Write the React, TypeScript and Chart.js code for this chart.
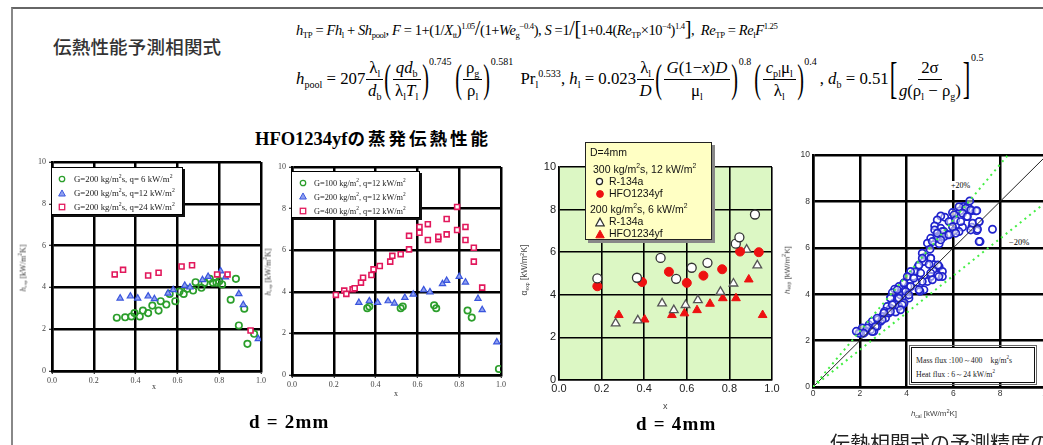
import React, { useEffect, useRef } from 'react';
import { Chart, registerables } from 'chart.js';
Chart.register(...registerables);

// ---------- DATA ----------
// d = 2mm, left panel (x, h_exp)
const g200q6: [number, number][] = [[0.31,2.55],[0.35,2.57],[0.38,2.61],[0.395,2.77],[0.42,2.61],[0.435,2.89],[0.46,2.77],[0.48,3.13],[0.51,2.89],[0.52,3.34],[0.547,3.18],[0.563,3.69],[0.59,3.34],[0.61,3.8],[0.63,3.69],[0.647,3.93],[0.675,3.85],[0.687,4.25],[0.715,3.98],[0.73,4.22],[0.755,4.41],[0.77,4.22],[0.787,4.22],[0.8,4.3],[0.814,4.14],[0.88,4.41],[0.855,3.41],[0.894,2.18],[0.92,2.98],[0.935,1.3],[0.967,1.78]];
const g200q12: [number, number][] = [[0.326,3.48],[0.375,3.58],[0.41,3.48],[0.46,3.58],[0.49,3.45],[0.555,3.72],[0.58,3.88],[0.635,4.09],[0.66,4.01],[0.72,4.36],[0.747,4.52],[0.807,4.78],[0.83,4.49],[0.894,3.69],[0.915,3.17],[0.987,1.54]];
const g200q24: [number, number][] = [[0.3,4.62],[0.34,4.84],[0.46,4.57],[0.51,4.7],[0.62,5.0],[0.67,5.06],[0.79,4.62],[0.84,4.62],[0.95,1.94]];
// d = 2mm, right panel
const g100q12: [number, number][] = [[0.36,3.21],[0.37,3.29],[0.52,3.21],[0.53,3.29],[0.68,3.35],[0.69,3.21],[0.84,3.1],[0.86,2.76],[0.99,0.29]];
const g200q12b: [number, number][] = [[0.32,3.48],[0.37,3.56],[0.41,3.48],[0.46,3.56],[0.49,3.45],[0.54,3.72],[0.58,3.88],[0.63,4.09],[0.66,3.99],[0.72,4.38],[0.74,4.54],[0.8,4.73],[0.83,4.46],[0.89,3.67],[0.91,3.13],[0.98,1.58]];
const g400q12: [number, number][] = [[0.21,3.85],[0.25,4.06],[0.26,3.9],[0.29,4.12],[0.3,4.17],[0.33,4.44],[0.34,4.68],[0.38,4.81],[0.39,5.08],[0.42,5.24],[0.47,5.45],[0.48,5.73],[0.52,5.81],[0.56,6.04],[0.56,6.69],[0.61,6.84],[0.61,7.12],[0.65,6.49],[0.65,7.25],[0.7,6.53],[0.7,6.64],[0.74,6.76],[0.74,7.5],[0.79,6.97],[0.79,8.08],[0.83,7.12],[0.83,6.49],[0.87,6.12],[0.87,5.45],[0.91,4.2]];
// d = 4mm
const r134a300: [number, number][] = [[0.18,4.77],[0.366,4.8],[0.477,5.73],[0.55,4.75],[0.623,5.27],[0.697,5.5],[0.83,6.4],[0.847,6.7],[0.92,7.77]];
const hfo300: [number, number][] = [[0.18,4.4],[0.39,4.6],[0.516,5.08],[0.6,4.56],[0.678,4.9],[0.766,5.2],[0.85,6.03],[0.938,6.0]];
const r134a200: [number, number][] = [[0.266,2.66],[0.37,2.8],[0.484,3.6],[0.539,3.28],[0.594,3.52],[0.652,3.75],[0.758,4.14],[0.819,4.53],[0.881,6.12],[0.931,5.38]];
const hfo200: [number, number][] = [[0.281,3.05],[0.402,2.84],[0.53,3.05],[0.589,3.13],[0.648,3.28],[0.709,3.58],[0.769,3.84],[0.831,3.84],[0.891,4.72],[0.956,3.05]];
// correlation accuracy (h_cal, h_exp)
const accuracy: [number, number][] = [
  [6.7,8.02],[6.43,7.78],[6.29,7.6],[6.67,7.7],[6.56,7.35],[6.79,7.6],[6.96,7.59],[7.1,7.13],[7.0,6.74],[7.67,6.8],[7.14,6.27],[6.79,6.89],[6.39,6.89],[6.24,6.7],[6.03,6.74],
  [5.96,7.52],[5.89,7.13],[5.63,7.32],[5.46,7.37],[5.31,7.2],[5.2,6.94],[5.46,6.84],[5.6,6.7],[5.74,6.56],[5.39,6.46],[5.2,6.77],[5.39,6.17],[5.27,6.41],[5.03,6.41],[4.89,6.2],
  [5.0,5.94],[4.81,5.62],[4.67,5.77],[4.74,5.41],[5.03,5.55],[5.17,5.27],[5.39,5.19],[5.53,4.98],[5.31,4.84],[5.53,4.76],[5.13,5.05],[5.03,4.76],[4.89,4.55],[4.74,4.19],[4.57,4.12],
  [4.43,4.51],[4.29,4.76],[4.49,5.19],[4.36,4.98],[4.17,4.98],[4.03,4.76],[3.89,4.48],[4.06,4.33],[3.81,4.19],[3.67,4.33],[3.49,4.22],[3.39,4.07],[3.31,3.83],[3.46,3.62],[3.6,3.83],
  [3.74,3.97],[3.96,3.9],[4.1,3.83],[3.89,3.62],[3.67,3.47],[3.31,3.4],[3.17,3.47],[3.06,3.26],[2.96,3.04],[2.89,2.83],[2.74,2.61],[2.6,2.4],[2.46,2.47],[2.24,2.4],[2.03,2.32],
  [2.39,2.68],[2.53,2.83],[2.77,2.9],[3.1,2.97],[3.24,3.19],[3.53,3.23],[2.1,2.54],[1.96,2.32],[1.85,2.4],
  [4.67,5.55],[5.03,5.55],[4.53,5.26],[4.96,5.29],[5.34,5.26],[5.38,4.76],[5.03,4.91],[4.6,4.91],[4.31,4.69],[4.67,4.55],[5.1,4.62],[4.53,4.19],[4.17,4.33],[3.88,4.48],[3.6,4.19],
  [3.96,4.12],[4.1,3.97],[3.67,3.83],[3.31,3.83],[3.39,3.54],[3.81,3.54],[3.74,3.33],[3.31,3.25],[3.03,3.19],[2.96,2.9],[2.74,2.97],[2.67,2.61],[2.31,2.54],[2.17,2.32],[2.53,2.39],
  [6.24,7.77],[6.53,7.71],[6.74,7.63],[7.0,7.6],[6.39,7.49],[6.6,7.35],[6.03,7.42],[5.81,7.13],[6.1,7.2],[6.31,7.13],[5.96,6.91],[5.53,6.7],[5.31,6.63],[5.6,6.48],[5.81,6.56],
  [6.1,6.63],[5.46,6.34],[5.1,6.27],[6.82,7.06],[7.1,7.13],[6.74,6.77],[7.03,6.8],[7.1,6.27]
];
const diagLine: [number, number][] = [[0,0],[10,10]];
const plus20Line: [number, number][] = [[0,0],[8.333,10]];
const minus20Line: [number, number][] = [[0,0],[10,8]];

const xTicksFrac = ['0.0','0.2','0.4','0.6','0.8','1.0'];
const yTicks = ['0','2','4','6','8','10'];
const hTicks = ['0','2','4','6','8','10'];

// ---------- helpers ----------
const P = (arr: [number, number][]) => arr.map(([x, y]) => ({ x, y }));

const plotBg = (color: string) => ({
  id: 'plotBg',
  beforeDraw(chart: any) {
    const { ctx, chartArea: a } = chart;
    ctx.save();
    ctx.fillStyle = color;
    ctx.fillRect(a.left, a.top, a.right - a.left, a.bottom - a.top);
    ctx.restore();
  },
});

type PanelProps = {
  area: { x0: number; x1: number; y0: number; y1: number };
  yW: number; xH: number;
  xMax: number; xStep: number; xLabels: string[];
  yMax: number; yStep: number; yLabels: string[];
  font: any; tickColor: string; gridW: number; tickLen: number;
  datasets: any[]; bg: string;
};

const PAD = { left: 4, top: 10, right: 16, bottom: 4 };

function Panel(p: PanelProps) {
  const ref = useRef<HTMLCanvasElement>(null);
  const w = Math.round(p.area.x1 - p.area.x0 + p.yW + PAD.left + PAD.right);
  const h = Math.round(p.area.y1 - p.area.y0 + p.xH + PAD.top + PAD.bottom);
  useEffect(() => {
    const mkGrid = () => ({ color: '#000000', lineWidth: p.gridW, tickLength: p.tickLen, drawTicks: p.tickLen > 0, tickColor: '#000000', tickWidth: 1 });
    const chart = new Chart(ref.current!, {
      type: 'scatter',
      data: { datasets: p.datasets },
      options: {
        animation: false,
        responsive: false,
        maintainAspectRatio: false,
        devicePixelRatio: 1,
        layout: { padding: PAD },
        plugins: { legend: { display: false }, tooltip: { enabled: false } },
        scales: {
          x: {
            type: 'linear', min: 0, max: p.xMax,
            ticks: { stepSize: p.xStep, font: p.font, color: p.tickColor, padding: 2, maxRotation: 0,
              callback: (_v: any, i: number) => p.xLabels[i] },
            grid: mkGrid(),
            border: { color: '#000000', width: p.gridW },
            afterFit: (s: any) => { s.height = p.xH; s.paddingLeft = 0; s.paddingRight = 0; },
          },
          y: {
            type: 'linear', min: 0, max: p.yMax,
            ticks: { stepSize: p.yStep, font: p.font, color: p.tickColor, padding: 3,
              callback: (_v: any, i: number) => p.yLabels[i] },
            grid: mkGrid(),
            border: { color: '#000000', width: p.gridW },
            afterFit: (s: any) => { s.width = p.yW; s.paddingTop = 0; s.paddingBottom = 0; },
          },
        },
      } as any,
      plugins: [plotBg(p.bg)],
    });
    return () => chart.destroy();
  }, []);
  return (
    <canvas ref={ref} width={w} height={h}
      style={{ position: 'absolute', left: Math.round(p.area.x0) - p.yW - PAD.left, top: Math.round(p.area.y0) - PAD.top, width: w, height: h }} />
  );
}

function Mk({ kind, stroke, fill, size = 8, sw = 1.6 }: { kind: string; stroke: string; fill: string; size?: number; sw?: number }) {
  return (
    <svg width={size} height={size} viewBox="0 0 10 10" style={{ display: 'block' }}>
      {kind === 'circle' && <circle cx="5" cy="5" r="3.4" fill={fill} stroke={stroke} strokeWidth={sw} />}
      {kind === 'square' && <rect x="1.6" y="1.6" width="6.8" height="6.8" fill={fill} stroke={stroke} strokeWidth={sw} />}
      {kind === 'tri' && <polygon points="5,1.2 9.2,8.8 0.8,8.8" fill={fill} stroke={stroke} strokeWidth={sw} />}
    </svg>
  );
}

const abs = (left: number, top: number, extra: any = {}) => ({ position: 'absolute' as const, left, top, ...extra });

const serif = '"Liberation Serif", "Times New Roman", serif';
const sans = '"Liberation Sans", Arial, sans-serif';
const cjk = '"Noto Sans CJK JP", sans-serif';

const Sb = ({ c }: { c: any }) => <sub style={{ fontSize: '0.6em', verticalAlign: '-0.35em', lineHeight: 0 }}>{c}</sub>;
const Sp = ({ c }: { c: any }) => <sup style={{ fontSize: '0.6em', verticalAlign: '0.7em', lineHeight: 0 }}>{c}</sup>;
const It = ({ c }: { c: any }) => <i>{c}</i>;
const Sl = ({ c }: { c: string }) => <span style={{ fontSize: '1.4em', lineHeight: 0 }}>{c}</span>;

function Frac({ n, d }: { n: any; d: any }) {
  return (
    <span style={{ display: 'inline-flex', flexDirection: 'column', alignItems: 'center', margin: '0 1px' }}>
      <span style={{ borderBottom: '1px solid #000', padding: '0 3px 1px', lineHeight: 1.15, whiteSpace: 'nowrap' }}>{n}</span>
      <span style={{ lineHeight: 1.15, paddingTop: 1, whiteSpace: 'nowrap' }}>{d}</span>
    </span>
  );
}
function Big({ ch, s = 2.4 }: { ch: string; s?: number }) {
  return <span style={{ display: 'inline-block', fontSize: `${s}em`, lineHeight: 1, transform: 'scaleX(0.5)', fontWeight: 100, margin: '0 -3px' }}>{ch}</span>;
}
function Ex({ c, t = 0, mr = 3 }: { c: string; t?: number; mr?: number }) {
  return <span style={{ alignSelf: 'flex-start', fontSize: 10, marginTop: t, marginRight: mr }}>{c}</span>;
}

function Legend({ left, top, width, height, rows, font, fontSize, shadow }: any) {
  return (
    <div style={abs(left, top, { width, height, boxSizing: 'border-box', border: '1.5px solid #000', boxShadow: shadow, background: '#fff', fontFamily: font, fontSize, color: '#222' })}>
      {rows.map((r: any, i: number) => (
        <div key={i} style={abs(0, r.y - 6, { height: 12, display: 'flex', alignItems: 'center', whiteSpace: 'nowrap' })}>
          <div style={{ width: r.mx, display: 'flex', justifyContent: 'flex-end' }}>{r.mk}</div>
          <div style={{ marginLeft: r.gap }}>{r.label}</div>
        </div>
      ))}
    </div>
  );
}

export default function App() {
  const smallSerif = { family: serif, size: 8 };
  const cols = { g: '#2b9e2b', b: '#3a55dd', bf: '#8fa0f0', r: '#e2185c' };

  const ds1 = [
    { data: P(g200q24), pointStyle: 'rect', pointRadius: 3.5, borderColor: cols.r, backgroundColor: '#fff', borderWidth: 1.6 },
    { data: P(g200q12), pointStyle: 'triangle', pointRadius: 3.6, borderColor: cols.b, backgroundColor: cols.bf, borderWidth: 1.2 },
    { data: P(g200q6), pointStyle: 'circle', pointRadius: 3.2, borderColor: cols.g, backgroundColor: 'rgba(255,255,255,0)', borderWidth: 1.7 },
  ];
  const ds2 = [
    { data: P(g400q12), pointStyle: 'rect', pointRadius: 3.5, borderColor: cols.r, backgroundColor: '#fff', borderWidth: 1.6 },
    { data: P(g200q12b), pointStyle: 'triangle', pointRadius: 3.6, borderColor: cols.b, backgroundColor: cols.bf, borderWidth: 1.2 },
    { data: P(g100q12), pointStyle: 'circle', pointRadius: 3.2, borderColor: cols.g, backgroundColor: 'rgba(255,255,255,0)', borderWidth: 1.7 },
  ];
  const red = '#ee1111';
  const ds3 = [
    { data: P(r134a300), pointStyle: 'circle', pointRadius: 4.5, borderColor: '#333', backgroundColor: '#fff', borderWidth: 1.3 },
    { data: P(hfo300), pointStyle: 'circle', pointRadius: 4.5, borderColor: red, backgroundColor: red, borderWidth: 1 },
    { data: P(r134a200), pointStyle: 'triangle', pointRadius: 5, borderColor: '#555', backgroundColor: '#fff', borderWidth: 1.3 },
    { data: P(hfo200), pointStyle: 'triangle', pointRadius: 5, borderColor: red, backgroundColor: red, borderWidth: 1 },
  ];
  const ds4 = [
    { data: P(plus20Line), showLine: true, pointRadius: 0, borderColor: '#44ee44', borderWidth: 2, borderDash: [2, 4] },
    { data: P(minus20Line), showLine: true, pointRadius: 0, borderColor: '#44ee44', borderWidth: 2, borderDash: [2, 4] },
    { data: P(diagLine), showLine: true, pointRadius: 0, borderColor: '#222', borderWidth: 1 },
    { data: P(accuracy), pointStyle: 'circle', pointRadius: 3.6, borderColor: '#1f22cc', backgroundColor: 'rgba(255,255,255,0.5)', borderWidth: 1.7 },
  ];

  const kgm2s = <>kg/m<sup style={{ fontSize: '0.65em' }}>2</sup>s</>;
  const kwm2 = <>kW/m<sup style={{ fontSize: '0.65em' }}>2</sup></>;
  const unitK = <>[kW/m<sup style={{ fontSize: '0.7em' }}>2</sup>K]</>;

  return (
    <div style={{ position: 'absolute', left: 0, top: 0, width: 1043, height: 445, overflow: 'hidden', background: '#fff', color: '#000' }}>
      {/* slide frame */}
      <div style={abs(11, 7, { width: 1100, height: 500, borderTop: '2px solid #666', borderLeft: '2px solid #888' })} />

      <div style={abs(53, 33, { fontFamily: cjk, fontSize: 18.5, fontWeight: 500, color: '#333', letterSpacing: 0.2, whiteSpace: 'nowrap' })}>伝熱性能予測相関式</div>

      {/* formula line 1 */}
      <div style={abs(296, 18, { fontFamily: serif, fontSize: 14.5, letterSpacing: -0.4, whiteSpace: 'pre', lineHeight: '24px' })}>
        <It c="h" /><Sb c="TP" /> = <It c="Fh" /><Sb c="l" /> + <It c="Sh" /><Sb c="pool" />, <It c="F" /> = 1+(1/<It c="X" /><Sb c="tt" />)<Sp c="1.05" /><Sl c="/" />(1+<It c="We" /><Sb c="g" /><Sp c="−0.4" />), <It c="S" /> =1<Sl c="/" /><Sl c="[" />1+0.4(<It c="Re" /><Sb c="TP" />×10<Sp c="−4" />)<Sp c="1.4" /><Sl c="]" />,  <It c="Re" /><Sb c="TP" /> = <It c="Re" /><Sb c="l" /><It c="F" /><Sp c="1.25" />
      </div>

      {/* formula line 2 */}
      <div style={abs(296, 50, { height: 58, display: 'flex', alignItems: 'center', fontFamily: serif, fontSize: 16.8, whiteSpace: 'pre' })}>
        <span><It c="h" /><Sb c="pool" /> = 207</span>
        <Frac n={<>λ<Sb c="l" /></>} d={<><It c="d" /><Sb c="b" /></>} />
        <Big ch="(" />
        <Frac n={<><It c="qd" /><Sb c="b" /></>} d={<>λ<Sb c="l" /><It c="T" /><Sb c="l" /></>} />
        <Big ch=")" />
        <Ex c="0.745" t={6} />
        <Big ch="(" />
        <Frac n={<>ρ<Sb c="g" /></>} d={<>ρ<Sb c="l" /></>} />
        <Big ch=")" />
        <Ex c="0.581" t={6} />
        <span> Pr<Sb c="l" /><Sp c="0.533" />, <It c="h" /><Sb c="l" /> = 0.023</span>
        <Frac n={<>λ<Sb c="l" /></>} d={<It c="D" />} />
        <Big ch="(" />
        <Frac n={<><It c="G" />(1−<It c="x" />)<It c="D" /></>} d={<>μ<Sb c="l" /></>} />
        <Big ch=")" />
        <Ex c="0.8" t={6} />
        <Big ch="(" />
        <Frac n={<><It c="c" /><Sb c="pl" />μ<Sb c="l" /></>} d={<>λ<Sb c="l" /></>} />
        <Big ch=")" />
        <Ex c="0.4" t={6} />
        <span>, <It c="d" /><Sb c="b" /> = 0.51</span>
        <Big ch="[" s={2.7} />
        <Frac n={<>2σ</>} d={<><It c="g" />(ρ<Sb c="l" /> − ρ<Sb c="g" />)</>} />
        <Big ch="]" s={2.7} />
        <Ex c="0.5" t={2} />
      </div>

      <div style={abs(255, 125, { fontFamily: `${serif}`, fontWeight: 'bold', fontSize: 18.5, whiteSpace: 'nowrap' })}>
        HFO1234yf<span style={{ fontFamily: cjk, fontSize: 17.5, letterSpacing: 3 }}>の蒸発伝熱性能</span>
      </div>

      {/* chart 1 */}
      <Panel area={{ x0: 51.5, x1: 260, y0: 161.5, y1: 370.5 }} yW={26} xH={14} xMax={1} xStep={0.2} xLabels={xTicksFrac}
        yMax={10} yStep={2} yLabels={yTicks} font={smallSerif} tickColor="#444" gridW={2.5} tickLen={3} datasets={ds1} bg="#ffffff" />
      <div style={abs(22, 268, { fontFamily: serif, fontSize: 8, color: '#333', whiteSpace: 'nowrap', transform: 'translate(-50%,-50%) rotate(-90deg)' })}>
        <It c="h" /><Sb c="exp" /> {unitK}
      </div>
      <div style={abs(152, 382, { fontFamily: serif, fontSize: 8, color: '#333' })}>x</div>
      <Legend left={51} top={167} width={132} height={48} font={serif} fontSize={8.8} shadow="2px 2px 0 #111"
        rows={[
          { y: 10.5, mx: 14, gap: 8, mk: <Mk kind="circle" stroke={cols.g} fill="none" />, label: <>G=200 {kgm2s}, q=  6 {kwm2}</> },
          { y: 24.5, mx: 14, gap: 8, mk: <Mk kind="tri" stroke={cols.b} fill={cols.bf} sw={1.2} />, label: <>G=200 {kgm2s}, q=12 {kwm2}</> },
          { y: 38.5, mx: 14, gap: 8, mk: <Mk kind="square" stroke={cols.r} fill="#fff" />, label: <>G=200 {kgm2s}, q=24 {kwm2}</> },
        ]} />

      {/* chart 2 */}
      <Panel area={{ x0: 291.7, x1: 500.7, y0: 167, y1: 375.3 }} yW={26} xH={14} xMax={1} xStep={0.2} xLabels={xTicksFrac}
        yMax={10} yStep={2} yLabels={yTicks} font={smallSerif} tickColor="#444" gridW={2.5} tickLen={3} datasets={ds2} bg="#ffffff" />
      <div style={abs(267, 272, { fontFamily: serif, fontSize: 8, color: '#333', whiteSpace: 'nowrap', transform: 'translate(-50%,-50%) rotate(-90deg)' })}>
        <It c="h" /><Sb c="exp" /> {unitK}
      </div>
      <div style={abs(394, 389, { fontFamily: serif, fontSize: 8, color: '#333' })}>x</div>
      <Legend left={291} top={171} width={129} height={47} font={serif} fontSize={8.3} shadow="2px 2px 0 #111"
        rows={[
          { y: 10.5, mx: 15, gap: 7, mk: <Mk kind="circle" stroke={cols.g} fill="none" />, label: <>G=100 kg/m<sup style={{ fontSize: '0.65em' }}>2</sup>, q=12 {kwm2}</> },
          { y: 24, mx: 15, gap: 7, mk: <Mk kind="tri" stroke={cols.b} fill={cols.bf} sw={1.2} />, label: <>G=200 kg/m<sup style={{ fontSize: '0.65em' }}>2</sup>, q=12 {kwm2}</> },
          { y: 38.5, mx: 15, gap: 7, mk: <Mk kind="square" stroke={cols.r} fill="#fff" />, label: <>G=400 kg/m<sup style={{ fontSize: '0.65em' }}>2</sup>, q=12 {kwm2}</> },
        ]} />
      <div style={abs(249, 411, { fontFamily: serif, fontWeight: 'bold', fontSize: 19, letterSpacing: 1.2, whiteSpace: 'nowrap' })}>d = 2mm</div>

      {/* chart 3 */}
      <Panel area={{ x0: 559.3, x1: 772.7, y0: 167.3, y1: 380.7 }} yW={22} xH={18} xMax={1} xStep={0.2} xLabels={xTicksFrac}
        yMax={10} yStep={2} yLabels={yTicks} font={{ family: sans, size: 11 }} tickColor="#222" gridW={1.6} tickLen={0} datasets={ds3} bg="#dcf7c4" />
      <div style={abs(524, 270, { fontFamily: sans, fontSize: 8.5, color: '#444', whiteSpace: 'nowrap', transform: 'translate(-50%,-50%) rotate(-90deg)' })}>
        α<Sb c="exp" /> {unitK}
      </div>
      <div style={abs(663, 401, { fontFamily: sans, fontSize: 9, color: '#444' })}>x</div>
      <div style={abs(585, 142, { width: 127, height: 98, boxSizing: 'border-box', border: '1.5px solid #222', background: '#ffffc4', boxShadow: '3px 3px 0 #888', fontFamily: sans, fontSize: 10.5, color: '#111', whiteSpace: 'nowrap' })}>
        <div style={abs(4, 3)}>D=4mm</div>
        <div style={abs(7, 19)}>300 {kgm2s}, 12 {kwm2}</div>
        <div style={abs(9, 34)}><Mk kind="circle" stroke="#222" fill="#fff" size={9} sw={1.4} /></div>
        <div style={abs(23, 32)}>R-134a</div>
        <div style={abs(9, 46)}><Mk kind="circle" stroke={red} fill={red} size={10} sw={1} /></div>
        <div style={abs(23, 44)}>HFO1234yf</div>
        <div style={abs(4, 59)}>200 {kgm2s}, 6 {kwm2}</div>
        <div style={abs(9, 74)}><Mk kind="tri" stroke="#333" fill="#fff" size={10} sw={1.3} /></div>
        <div style={abs(23, 72)}>R-134a</div>
        <div style={abs(9, 86)}><Mk kind="tri" stroke={red} fill={red} size={10} sw={1} /></div>
        <div style={abs(23, 84)}>HFO1234yf</div>
      </div>
      <div style={abs(636, 413, { fontFamily: serif, fontWeight: 'bold', fontSize: 19, letterSpacing: 1.2, whiteSpace: 'nowrap' })}>d = 4mm</div>

      {/* chart 4 */}
      <Panel area={{ x0: 812.7, x1: 1046.7, y0: 155, y1: 387.3 }} yW={18} xH={15} xMax={10} xStep={2} xLabels={hTicks}
        yMax={10} yStep={2} yLabels={hTicks} font={{ family: sans, size: 8.5 }} tickColor="#333" gridW={2.5} tickLen={0} datasets={ds4} bg="#ffffff" />
      <div style={abs(786, 270, { fontFamily: sans, fontSize: 8, color: '#444', whiteSpace: 'nowrap', transform: 'translate(-50%,-50%) rotate(-90deg)' })}>
        <It c="h" /><Sb c="exp" /> {unitK}
      </div>
      <div style={abs(934, 413, { fontFamily: sans, fontSize: 8, color: '#444', whiteSpace: 'nowrap', transform: 'translate(-50%,-50%)' })}>
        <It c="h" /><Sb c="cal" /> {unitK}
      </div>
      <div style={abs(950, 181, { fontFamily: serif, fontSize: 8, background: '#fff', padding: '0 1px' })}>+20%</div>
      <div style={abs(1006, 242, { fontFamily: serif, fontSize: 8.5, background: '#fff', padding: '0 3px', transform: 'translateY(-50%)' })}>−20%</div>
      <div style={abs(911, 347, { width: 124, height: 36, boxSizing: 'border-box', border: '1.2px solid #111', outline: '0.8px solid #666', outlineOffset: 1, background: '#fff', fontFamily: serif, fontSize: 7.8, color: '#222', whiteSpace: 'nowrap' })}>
        <div style={abs(4, 6)}>Mass flux :100～400　{kgm2s}</div>
        <div style={abs(4, 20)}>Heat flux  : 6～24 {kwm2}</div>
      </div>
      <div style={abs(830, 428, { fontFamily: cjk, fontSize: 20, color: '#222', whiteSpace: 'nowrap' })}>伝熱相関式の予測精度の</div>
    </div>
  );
}
